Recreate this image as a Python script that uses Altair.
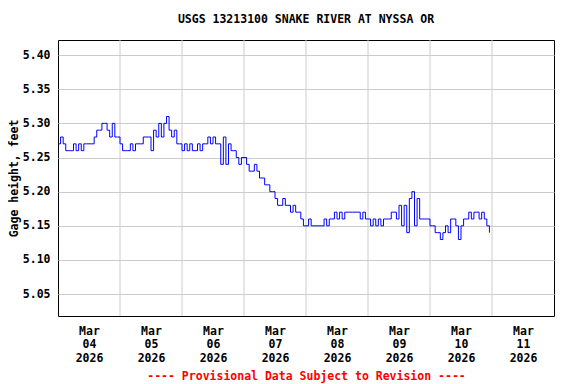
import altair as alt
import pandas as pd

TITLE = "USGS 13213100 SNAKE RIVER AT NYSSA OR"
Y_TITLE = "Gage height, feet"
FOOTER = "---- Provisional Data Subject to Revision ----"

# tick values
y_ticks = [5.05, 5.10, 5.15, 5.20, 5.25, 5.30, 5.35, 5.40]
label_days = [4, 5, 6, 7, 8, 9, 10, 11]       # March 2026
grid_days = ["2026-03-05T00:00:00Z", "2026-03-06T00:00:00Z", "2026-03-07T00:00:00Z",
             "2026-03-08T00:00:00Z", "2026-03-09T00:00:00Z", "2026-03-10T00:00:00Z",
             "2026-03-11T00:00:00Z"]

# hourly gage height readings (feet), one list per day
mar04 = [5.27, 5.28, 5.27, 5.26, 5.26, 5.26, 5.27, 5.26, 5.27, 5.26, 5.27, 5.27,
         5.27, 5.27, 5.28, 5.29, 5.29, 5.30, 5.30, 5.29, 5.28, 5.30, 5.28, 5.28]
mar05 = [5.27, 5.26, 5.26, 5.26, 5.27, 5.26, 5.27, 5.27, 5.27, 5.28, 5.28, 5.28,
         5.26, 5.29, 5.28, 5.30, 5.28, 5.30, 5.31, 5.29, 5.28, 5.29, 5.27, 5.27]
mar06 = [5.26, 5.27, 5.26, 5.27, 5.26, 5.26, 5.27, 5.26, 5.27, 5.27, 5.28, 5.27,
         5.28, 5.27, 5.27, 5.24, 5.28, 5.24, 5.27, 5.26, 5.26, 5.25, 5.24, 5.25]
mar07 = [5.25, 5.24, 5.23, 5.23, 5.24, 5.23, 5.22, 5.22, 5.21, 5.21, 5.20, 5.20,
         5.19, 5.18, 5.18, 5.19, 5.18, 5.18, 5.17, 5.18, 5.17, 5.17, 5.16, 5.15]
mar08 = [5.15, 5.16, 5.15, 5.15, 5.15, 5.15, 5.15, 5.16, 5.15, 5.16, 5.16, 5.17,
         5.16, 5.17, 5.16, 5.17, 5.17, 5.17, 5.17, 5.17, 5.17, 5.16, 5.17, 5.16]
mar09 = [5.16, 5.15, 5.16, 5.15, 5.16, 5.15, 5.16, 5.16, 5.16, 5.17, 5.17, 5.16,
         5.18, 5.15, 5.18, 5.14, 5.19, 5.20, 5.15, 5.19, 5.16, 5.16, 5.16, 5.16]
mar10 = [5.15, 5.15, 5.14, 5.14, 5.13, 5.14, 5.15, 5.14, 5.16, 5.16, 5.15, 5.13,
         5.15, 5.16, 5.16, 5.17, 5.16, 5.17, 5.17, 5.16, 5.17, 5.16, 5.15, 5.14]

values = mar04 + mar05 + mar06 + mar07 + mar08 + mar09 + mar10
times = pd.date_range("2026-03-04 00:00", periods=len(values), freq="h").strftime("%Y-%m-%dT%H:%M:%SZ")
df = pd.DataFrame({"time": list(times), "gage": values})
grid_df = pd.DataFrame({"day": grid_days})

FONT = "DejaVu Sans Mono"
FS = 11.5

x_scale = alt.Scale(type="utc",
                    domain=[alt.DateTime(year=2026, month=3, date=4, utc=True),
                            alt.DateTime(year=2026, month=3, date=12, utc=True)])

x_axis = alt.Axis(
    values=[alt.DateTime(year=2026, month=3, date=d, utc=True) for d in label_days],
    labelExpr="[utcFormat(datum.value, '%b'), utcFormat(datum.value, '%d'), utcFormat(datum.value, '%Y')]",
    labelOffset=31, ticks=False, domain=False, grid=False,
    labelFont=FONT, labelFontWeight="bold", labelFontSize=FS, labelColor="black",
    labelLineHeight=13.5, labelPadding=9, labelOverlap=False, labelFlush=False,
    labelBound=False, labelAlign="center",
    title=FOOTER, titleColor="#ff0000", titleFont=FONT, titleFontWeight="bold",
    titleFontSize=FS, titleX=248, titleY=60, titleBaseline="middle", titleAlign="center")

rules = alt.Chart(grid_df).mark_rule(color="#cccccc", strokeWidth=1).encode(
    x=alt.X("day:T", scale=x_scale, axis=x_axis, title=FOOTER)
)

line = alt.Chart(df).mark_line(interpolate="step-after", color="#0000ff", strokeWidth=1, clip=True).encode(
    x=alt.X("time:T", scale=x_scale, axis=x_axis, title=FOOTER),
    y=alt.Y("gage:Q",
            scale=alt.Scale(domain=[5.018, 5.422], nice=False, zero=False),
            axis=alt.Axis(values=y_ticks, format=".2f", ticks=False, domain=False,
                          grid=True, gridColor="#cccccc", gridWidth=1,
                          labelFont=FONT, labelFontWeight="bold", labelFontSize=FS,
                          labelColor="black", labelPadding=8,
                          title=Y_TITLE, titleFont=FONT, titleFontWeight="bold",
                          titleFontSize=FS, titleColor="black", titleX=-44, titleY=138,
                          titleAngle=270, titleAlign="center", titleBaseline="middle"))
)

chart = alt.layer(rules, line).properties(
    width=496, height=276,
    title=alt.TitleParams(TITLE, font=FONT, fontSize=FS, fontWeight="bold", color="black",
                          anchor="middle", offset=14),
    autosize=alt.AutoSizeParams(type="none"),
    padding={"left": 50, "top": 32, "right": 14, "bottom": 72},
).configure(background="white").configure_view(stroke="black", strokeWidth=1)

chart.save("out.html", embed_options={"renderer": "svg", "actions": False})
